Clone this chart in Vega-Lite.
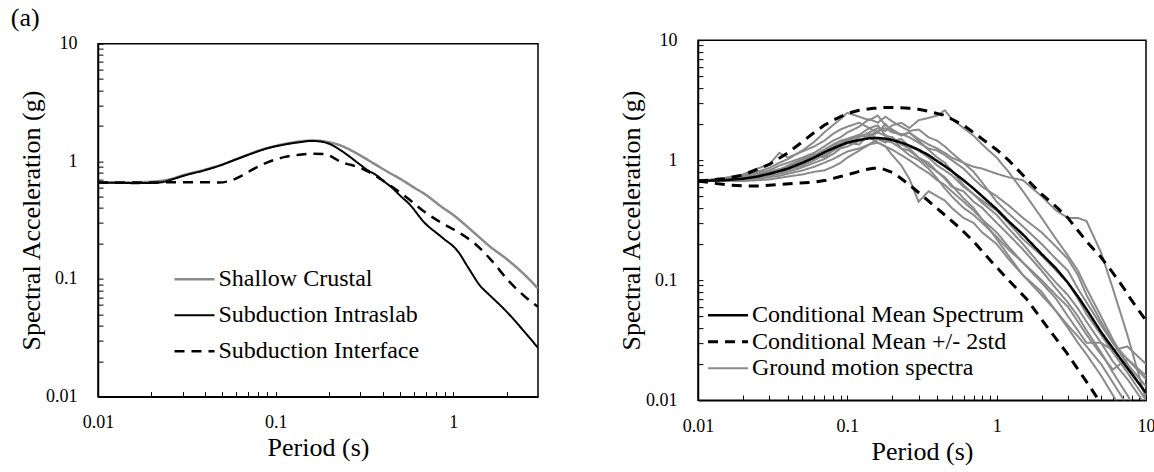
{
"$schema":"https://vega.github.io/schema/vega-lite/v6.json",
"padding":{"left":10,"top":5,"right":0,"bottom":0},
"title":{"text":"(a)","anchor":"start","fontSize":26,"font":"Liberation Serif, Times New Roman, serif","fontWeight":"normal","color":"black","dx":-6.5,"offset":-1},
"center":true,
"align":{"row":"all","column":"none"},
"spacing":78,
"resolve":{"scale":{"color":"independent","strokeDash":"independent","strokeWidth":"independent"},"legend":{"color":"independent","strokeDash":"independent","strokeWidth":"independent"}},
"config":{
"font":"Liberation Serif, Times New Roman, serif",
"view":{"stroke":"black","strokeWidth":1.5},
"axis":{"labelFont":"Liberation Serif, Times New Roman, serif","titleFont":"Liberation Serif, Times New Roman, serif","labelFontSize":18,"titleFontSize":26,"titleFontWeight":"normal","labelColor":"black","titleColor":"black","domainColor":"black","domainWidth":1.5,"tickColor":"black","tickWidth":1,"tickSize":-5,"grid":false,"labelOverlap":false,"labelFlush":false,"labelBound":false},
"axisX":{"labelPadding":22,"titlePadding":3},
"axisY":{"labelPadding":26,"titlePadding":1.5},
"legend":{"labelFont":"Liberation Serif, Times New Roman, serif","labelFontSize":24,"labelColor":"black","symbolType":"stroke","padding":0,"labelLimit":500}
},
"hconcat":[
{
"width":440,"height":353,
"data":{"values":[
{"series":"Shallow Crustal","T":0.01,"Sa":0.66},{"series":"Shallow Crustal","T":0.013,"Sa":0.66},{"series":"Shallow Crustal","T":0.016,"Sa":0.662},{"series":"Shallow Crustal","T":0.02,"Sa":0.67},{"series":"Shallow Crustal","T":0.025,"Sa":0.7},{"series":"Shallow Crustal","T":0.03,"Sa":0.76},{"series":"Shallow Crustal","T":0.04,"Sa":0.85},{"series":"Shallow Crustal","T":0.05,"Sa":0.94},{"series":"Shallow Crustal","T":0.06,"Sa":1.04},{"series":"Shallow Crustal","T":0.07,"Sa":1.14},{"series":"Shallow Crustal","T":0.08,"Sa":1.23},{"series":"Shallow Crustal","T":0.1,"Sa":1.35},{"series":"Shallow Crustal","T":0.12,"Sa":1.43},{"series":"Shallow Crustal","T":0.14,"Sa":1.48},{"series":"Shallow Crustal","T":0.16,"Sa":1.5},{"series":"Shallow Crustal","T":0.18,"Sa":1.49},{"series":"Shallow Crustal","T":0.2,"Sa":1.45},{"series":"Shallow Crustal","T":0.23,"Sa":1.37},{"series":"Shallow Crustal","T":0.26,"Sa":1.26},{"series":"Shallow Crustal","T":0.3,"Sa":1.12},{"series":"Shallow Crustal","T":0.36,"Sa":0.95},{"series":"Shallow Crustal","T":0.43,"Sa":0.81},{"series":"Shallow Crustal","T":0.51,"Sa":0.7},{"series":"Shallow Crustal","T":0.6,"Sa":0.6},{"series":"Shallow Crustal","T":0.7,"Sa":0.52},{"series":"Shallow Crustal","T":0.86,"Sa":0.41},{"series":"Shallow Crustal","T":1.0,"Sa":0.35},{"series":"Shallow Crustal","T":1.32,"Sa":0.245},{"series":"Shallow Crustal","T":1.6,"Sa":0.19},{"series":"Shallow Crustal","T":2.04,"Sa":0.144},{"series":"Shallow Crustal","T":2.5,"Sa":0.11},{"series":"Shallow Crustal","T":3.0,"Sa":0.083},
{"series":"Subduction Intraslab","T":0.01,"Sa":0.66},{"series":"Subduction Intraslab","T":0.013,"Sa":0.655},{"series":"Subduction Intraslab","T":0.016,"Sa":0.652},{"series":"Subduction Intraslab","T":0.02,"Sa":0.655},{"series":"Subduction Intraslab","T":0.023,"Sa":0.665},{"series":"Subduction Intraslab","T":0.026,"Sa":0.7},{"series":"Subduction Intraslab","T":0.031,"Sa":0.76},{"series":"Subduction Intraslab","T":0.04,"Sa":0.84},{"series":"Subduction Intraslab","T":0.0475,"Sa":0.91},{"series":"Subduction Intraslab","T":0.06,"Sa":1.04},{"series":"Subduction Intraslab","T":0.073,"Sa":1.16},{"series":"Subduction Intraslab","T":0.09,"Sa":1.29},{"series":"Subduction Intraslab","T":0.113,"Sa":1.39},{"series":"Subduction Intraslab","T":0.14,"Sa":1.46},{"series":"Subduction Intraslab","T":0.159,"Sa":1.49},{"series":"Subduction Intraslab","T":0.18,"Sa":1.47},{"series":"Subduction Intraslab","T":0.2,"Sa":1.41},{"series":"Subduction Intraslab","T":0.225,"Sa":1.28},{"series":"Subduction Intraslab","T":0.25,"Sa":1.15},{"series":"Subduction Intraslab","T":0.29,"Sa":0.97},{"series":"Subduction Intraslab","T":0.33,"Sa":0.84},{"series":"Subduction Intraslab","T":0.37,"Sa":0.76},{"series":"Subduction Intraslab","T":0.41,"Sa":0.67},{"series":"Subduction Intraslab","T":0.45,"Sa":0.6},{"series":"Subduction Intraslab","T":0.51,"Sa":0.5},{"series":"Subduction Intraslab","T":0.56,"Sa":0.44},{"series":"Subduction Intraslab","T":0.69,"Sa":0.3},{"series":"Subduction Intraslab","T":0.86,"Sa":0.227},{"series":"Subduction Intraslab","T":1.07,"Sa":0.169},{"series":"Subduction Intraslab","T":1.21,"Sa":0.126},{"series":"Subduction Intraslab","T":1.44,"Sa":0.085},{"series":"Subduction Intraslab","T":1.57,"Sa":0.075},{"series":"Subduction Intraslab","T":2.04,"Sa":0.051},{"series":"Subduction Intraslab","T":2.5,"Sa":0.036},{"series":"Subduction Intraslab","T":3.0,"Sa":0.026},
{"series":"Subduction Interface","T":0.01,"Sa":0.66},{"series":"Subduction Interface","T":0.015,"Sa":0.66},{"series":"Subduction Interface","T":0.02,"Sa":0.66},{"series":"Subduction Interface","T":0.03,"Sa":0.665},{"series":"Subduction Interface","T":0.04,"Sa":0.665},{"series":"Subduction Interface","T":0.048,"Sa":0.66},{"series":"Subduction Interface","T":0.055,"Sa":0.68},{"series":"Subduction Interface","T":0.065,"Sa":0.76},{"series":"Subduction Interface","T":0.073,"Sa":0.84},{"series":"Subduction Interface","T":0.09,"Sa":0.98},{"series":"Subduction Interface","T":0.113,"Sa":1.09},{"series":"Subduction Interface","T":0.14,"Sa":1.14},{"series":"Subduction Interface","T":0.16,"Sa":1.16},{"series":"Subduction Interface","T":0.189,"Sa":1.15},{"series":"Subduction Interface","T":0.21,"Sa":1.08},{"series":"Subduction Interface","T":0.235,"Sa":0.98},{"series":"Subduction Interface","T":0.267,"Sa":0.93},{"series":"Subduction Interface","T":0.3,"Sa":0.88},{"series":"Subduction Interface","T":0.33,"Sa":0.82},{"series":"Subduction Interface","T":0.362,"Sa":0.76},{"series":"Subduction Interface","T":0.41,"Sa":0.67},{"series":"Subduction Interface","T":0.45,"Sa":0.61},{"series":"Subduction Interface","T":0.559,"Sa":0.48},{"series":"Subduction Interface","T":0.692,"Sa":0.37},{"series":"Subduction Interface","T":0.859,"Sa":0.3},{"series":"Subduction Interface","T":1.067,"Sa":0.25},{"series":"Subduction Interface","T":1.32,"Sa":0.2},{"series":"Subduction Interface","T":1.64,"Sa":0.144},{"series":"Subduction Interface","T":2.04,"Sa":0.097},{"series":"Subduction Interface","T":2.5,"Sa":0.072},{"series":"Subduction Interface","T":3.0,"Sa":0.058}
]},
"mark":{"type":"line","clip":true,"interpolate":"monotone"},
"encoding":{
"x":{"field":"T","type":"quantitative","scale":{"type":"log","domain":[0.01,3],"nice":false},"axis":{"title":"Period (s)","values":[0.01,0.02,0.03,0.04,0.05,0.06,0.07,0.08,0.09,0.1,0.2,0.3,0.4,0.5,0.6,0.7,0.8,0.9,1,2],"labelExpr":"datum.value == 0.01 ? '0.01' : datum.value == 0.1 ? '0.1' : datum.value == 1 ? '1' : datum.value == 10 ? '10' : ''"}},
"y":{"field":"Sa","type":"quantitative","scale":{"type":"log","domain":[0.01,10],"nice":false},"axis":{"title":"Spectral Acceleration (g)","values":[0.01,0.02,0.03,0.04,0.05,0.06,0.07,0.08,0.09,0.1,0.2,0.3,0.4,0.5,0.6,0.7,0.8,0.9,1,2,3,4,5,6,7,8,9,10],"labelExpr":"datum.value == 0.01 ? '0.01' : datum.value == 0.1 ? '0.1' : datum.value == 1 ? '1' : datum.value == 10 ? '10' : ''"}},
"color":{"field":"series","type":"nominal","scale":{"domain":["Shallow Crustal","Subduction Intraslab","Subduction Interface"],"range":["#8a8a8a","#000000","#000000"]},"legend":{"title":null,"orient":"none","legendX":75,"legendY":223.5,"rowPadding":12,"labelOffset":2.5,"symbolSize":1600,"encoding":{"symbols":{"y":{"value":12}},"labels":{"y":{"value":12}}}}},
"strokeDash":{"field":"series","type":"nominal","scale":{"domain":["Shallow Crustal","Subduction Intraslab","Subduction Interface"],"range":[[1,0],[1,0],[10,7]]},"legend":{"title":null,"orient":"none","legendX":75,"legendY":223.5,"rowPadding":12,"labelOffset":2.5,"symbolSize":1600,"encoding":{"symbols":{"y":{"value":12}},"labels":{"y":{"value":12}}}}},
"strokeWidth":{"field":"series","type":"nominal","scale":{"type":"ordinal","domain":["Shallow Crustal","Subduction Intraslab","Subduction Interface"],"range":[2.5,2,2.5]},"legend":{"title":null,"orient":"none","legendX":75,"legendY":223.5,"rowPadding":12,"labelOffset":2.5,"symbolSize":1600,"encoding":{"symbols":{"y":{"value":12}},"labels":{"y":{"value":12}}}}}
}
},
{
"width":448,"height":360,
"data":{"values":[
{"series":"Conditional Mean Spectrum","id":"cms","T":0.01,"Sa":0.67},{"series":"Conditional Mean Spectrum","id":"cms","T":0.015,"Sa":0.68},{"series":"Conditional Mean Spectrum","id":"cms","T":0.02,"Sa":0.7},{"series":"Conditional Mean Spectrum","id":"cms","T":0.025,"Sa":0.73},{"series":"Conditional Mean Spectrum","id":"cms","T":0.03,"Sa":0.77},{"series":"Conditional Mean Spectrum","id":"cms","T":0.035,"Sa":0.81},{"series":"Conditional Mean Spectrum","id":"cms","T":0.04,"Sa":0.85},{"series":"Conditional Mean Spectrum","id":"cms","T":0.05,"Sa":0.95},{"series":"Conditional Mean Spectrum","id":"cms","T":0.06,"Sa":1.05},{"series":"Conditional Mean Spectrum","id":"cms","T":0.07,"Sa":1.16},{"series":"Conditional Mean Spectrum","id":"cms","T":0.08,"Sa":1.25},{"series":"Conditional Mean Spectrum","id":"cms","T":0.09,"Sa":1.33},{"series":"Conditional Mean Spectrum","id":"cms","T":0.1,"Sa":1.4},{"series":"Conditional Mean Spectrum","id":"cms","T":0.12,"Sa":1.47},{"series":"Conditional Mean Spectrum","id":"cms","T":0.14,"Sa":1.52},{"series":"Conditional Mean Spectrum","id":"cms","T":0.16,"Sa":1.53},{"series":"Conditional Mean Spectrum","id":"cms","T":0.18,"Sa":1.51},{"series":"Conditional Mean Spectrum","id":"cms","T":0.2,"Sa":1.47},{"series":"Conditional Mean Spectrum","id":"cms","T":0.23,"Sa":1.4},{"series":"Conditional Mean Spectrum","id":"cms","T":0.26,"Sa":1.32},{"series":"Conditional Mean Spectrum","id":"cms","T":0.3,"Sa":1.22},{"series":"Conditional Mean Spectrum","id":"cms","T":0.35,"Sa":1.1},{"series":"Conditional Mean Spectrum","id":"cms","T":0.4,"Sa":0.98},{"series":"Conditional Mean Spectrum","id":"cms","T":0.45,"Sa":0.89},{"series":"Conditional Mean Spectrum","id":"cms","T":0.5,"Sa":0.81},{"series":"Conditional Mean Spectrum","id":"cms","T":0.6,"Sa":0.68},{"series":"Conditional Mean Spectrum","id":"cms","T":0.7,"Sa":0.58},{"series":"Conditional Mean Spectrum","id":"cms","T":0.8,"Sa":0.5},{"series":"Conditional Mean Spectrum","id":"cms","T":1.0,"Sa":0.39},{"series":"Conditional Mean Spectrum","id":"cms","T":1.2,"Sa":0.31},{"series":"Conditional Mean Spectrum","id":"cms","T":1.5,"Sa":0.24},{"series":"Conditional Mean Spectrum","id":"cms","T":2.0,"Sa":0.165},{"series":"Conditional Mean Spectrum","id":"cms","T":2.5,"Sa":0.125},{"series":"Conditional Mean Spectrum","id":"cms","T":3.0,"Sa":0.095},{"series":"Conditional Mean Spectrum","id":"cms","T":3.5,"Sa":0.073},{"series":"Conditional Mean Spectrum","id":"cms","T":4.0,"Sa":0.057},{"series":"Conditional Mean Spectrum","id":"cms","T":5.0,"Sa":0.037},{"series":"Conditional Mean Spectrum","id":"cms","T":6.0,"Sa":0.027},{"series":"Conditional Mean Spectrum","id":"cms","T":7.5,"Sa":0.0185},{"series":"Conditional Mean Spectrum","id":"cms","T":10,"Sa":0.0115},
{"series":"Conditional Mean +/- 2std","id":"up","T":0.01,"Sa":0.67},{"series":"Conditional Mean +/- 2std","id":"up","T":0.015,"Sa":0.7},{"series":"Conditional Mean +/- 2std","id":"up","T":0.02,"Sa":0.75},{"series":"Conditional Mean +/- 2std","id":"up","T":0.03,"Sa":0.92},{"series":"Conditional Mean +/- 2std","id":"up","T":0.04,"Sa":1.15},{"series":"Conditional Mean +/- 2std","id":"up","T":0.05,"Sa":1.42},{"series":"Conditional Mean +/- 2std","id":"up","T":0.06,"Sa":1.7},{"series":"Conditional Mean +/- 2std","id":"up","T":0.07,"Sa":1.95},{"series":"Conditional Mean +/- 2std","id":"up","T":0.08,"Sa":2.15},{"series":"Conditional Mean +/- 2std","id":"up","T":0.1,"Sa":2.45},{"series":"Conditional Mean +/- 2std","id":"up","T":0.12,"Sa":2.6},{"series":"Conditional Mean +/- 2std","id":"up","T":0.15,"Sa":2.7},{"series":"Conditional Mean +/- 2std","id":"up","T":0.18,"Sa":2.75},{"series":"Conditional Mean +/- 2std","id":"up","T":0.22,"Sa":2.74},{"series":"Conditional Mean +/- 2std","id":"up","T":0.26,"Sa":2.7},{"series":"Conditional Mean +/- 2std","id":"up","T":0.3,"Sa":2.65},{"series":"Conditional Mean +/- 2std","id":"up","T":0.35,"Sa":2.55},{"series":"Conditional Mean +/- 2std","id":"up","T":0.44,"Sa":2.37},{"series":"Conditional Mean +/- 2std","id":"up","T":0.5,"Sa":2.2},{"series":"Conditional Mean +/- 2std","id":"up","T":0.6,"Sa":1.95},{"series":"Conditional Mean +/- 2std","id":"up","T":0.7,"Sa":1.7},{"series":"Conditional Mean +/- 2std","id":"up","T":0.8,"Sa":1.5},{"series":"Conditional Mean +/- 2std","id":"up","T":1.0,"Sa":1.22},{"series":"Conditional Mean +/- 2std","id":"up","T":1.2,"Sa":1.0},{"series":"Conditional Mean +/- 2std","id":"up","T":1.58,"Sa":0.7},{"series":"Conditional Mean +/- 2std","id":"up","T":2.0,"Sa":0.52},{"series":"Conditional Mean +/- 2std","id":"up","T":2.5,"Sa":0.41},{"series":"Conditional Mean +/- 2std","id":"up","T":3.0,"Sa":0.33},{"series":"Conditional Mean +/- 2std","id":"up","T":4.0,"Sa":0.21},{"series":"Conditional Mean +/- 2std","id":"up","T":5.0,"Sa":0.155},{"series":"Conditional Mean +/- 2std","id":"up","T":6.0,"Sa":0.115},{"series":"Conditional Mean +/- 2std","id":"up","T":7.0,"Sa":0.088},{"series":"Conditional Mean +/- 2std","id":"up","T":8.0,"Sa":0.068},{"series":"Conditional Mean +/- 2std","id":"up","T":10,"Sa":0.046},
{"series":"Conditional Mean +/- 2std","id":"lo","T":0.01,"Sa":0.67},{"series":"Conditional Mean +/- 2std","id":"lo","T":0.013,"Sa":0.64},{"series":"Conditional Mean +/- 2std","id":"lo","T":0.016,"Sa":0.62},{"series":"Conditional Mean +/- 2std","id":"lo","T":0.02,"Sa":0.61},{"series":"Conditional Mean +/- 2std","id":"lo","T":0.026,"Sa":0.61},{"series":"Conditional Mean +/- 2std","id":"lo","T":0.035,"Sa":0.625},{"series":"Conditional Mean +/- 2std","id":"lo","T":0.045,"Sa":0.64},{"series":"Conditional Mean +/- 2std","id":"lo","T":0.06,"Sa":0.655},{"series":"Conditional Mean +/- 2std","id":"lo","T":0.072,"Sa":0.68},{"series":"Conditional Mean +/- 2std","id":"lo","T":0.09,"Sa":0.73},{"series":"Conditional Mean +/- 2std","id":"lo","T":0.11,"Sa":0.78},{"series":"Conditional Mean +/- 2std","id":"lo","T":0.13,"Sa":0.83},{"series":"Conditional Mean +/- 2std","id":"lo","T":0.15,"Sa":0.855},{"series":"Conditional Mean +/- 2std","id":"lo","T":0.165,"Sa":0.86},{"series":"Conditional Mean +/- 2std","id":"lo","T":0.18,"Sa":0.83},{"series":"Conditional Mean +/- 2std","id":"lo","T":0.2,"Sa":0.79},{"series":"Conditional Mean +/- 2std","id":"lo","T":0.22,"Sa":0.73},{"series":"Conditional Mean +/- 2std","id":"lo","T":0.27,"Sa":0.6},{"series":"Conditional Mean +/- 2std","id":"lo","T":0.34,"Sa":0.47},{"series":"Conditional Mean +/- 2std","id":"lo","T":0.42,"Sa":0.375},{"series":"Conditional Mean +/- 2std","id":"lo","T":0.57,"Sa":0.27},{"series":"Conditional Mean +/- 2std","id":"lo","T":0.7,"Sa":0.21},{"series":"Conditional Mean +/- 2std","id":"lo","T":0.95,"Sa":0.137},{"series":"Conditional Mean +/- 2std","id":"lo","T":1.2,"Sa":0.1},{"series":"Conditional Mean +/- 2std","id":"lo","T":1.58,"Sa":0.07},{"series":"Conditional Mean +/- 2std","id":"lo","T":2.27,"Sa":0.038},{"series":"Conditional Mean +/- 2std","id":"lo","T":2.93,"Sa":0.025},{"series":"Conditional Mean +/- 2std","id":"lo","T":4.2,"Sa":0.013},{"series":"Conditional Mean +/- 2std","id":"lo","T":4.8,"Sa":0.0101},{"series":"Conditional Mean +/- 2std","id":"lo","T":5.3,"Sa":0.0087},
{"series":"Ground motion spectra","id":"g1","T":0.01,"Sa":0.67},{"series":"Ground motion spectra","id":"g1","T":0.015,"Sa":0.7},{"series":"Ground motion spectra","id":"g1","T":0.02,"Sa":0.74},{"series":"Ground motion spectra","id":"g1","T":0.025,"Sa":0.8},{"series":"Ground motion spectra","id":"g1","T":0.03,"Sa":0.86},{"series":"Ground motion spectra","id":"g1","T":0.035,"Sa":0.95},{"series":"Ground motion spectra","id":"g1","T":0.04,"Sa":1.02},{"series":"Ground motion spectra","id":"g1","T":0.05,"Sa":1.2},{"series":"Ground motion spectra","id":"g1","T":0.06,"Sa":1.42},{"series":"Ground motion spectra","id":"g1","T":0.07,"Sa":1.7},{"series":"Ground motion spectra","id":"g1","T":0.08,"Sa":1.95},{"series":"Ground motion spectra","id":"g1","T":0.09,"Sa":2.2},{"series":"Ground motion spectra","id":"g1","T":0.1,"Sa":2.48},{"series":"Ground motion spectra","id":"g1","T":0.12,"Sa":2.3},{"series":"Ground motion spectra","id":"g1","T":0.14,"Sa":2.15},{"series":"Ground motion spectra","id":"g1","T":0.16,"Sa":2.35},{"series":"Ground motion spectra","id":"g1","T":0.18,"Sa":1.95},{"series":"Ground motion spectra","id":"g1","T":0.2,"Sa":1.8},{"series":"Ground motion spectra","id":"g1","T":0.23,"Sa":1.62},{"series":"Ground motion spectra","id":"g1","T":0.26,"Sa":1.7},{"series":"Ground motion spectra","id":"g1","T":0.3,"Sa":1.45},{"series":"Ground motion spectra","id":"g1","T":0.35,"Sa":1.22},{"series":"Ground motion spectra","id":"g1","T":0.4,"Sa":1.05},{"series":"Ground motion spectra","id":"g1","T":0.45,"Sa":0.95},{"series":"Ground motion spectra","id":"g1","T":0.5,"Sa":0.82},{"series":"Ground motion spectra","id":"g1","T":0.6,"Sa":0.62},{"series":"Ground motion spectra","id":"g1","T":0.7,"Sa":0.52},{"series":"Ground motion spectra","id":"g1","T":0.8,"Sa":0.44},{"series":"Ground motion spectra","id":"g1","T":1.0,"Sa":0.35},{"series":"Ground motion spectra","id":"g1","T":1.2,"Sa":0.27},{"series":"Ground motion spectra","id":"g1","T":1.5,"Sa":0.2},{"series":"Ground motion spectra","id":"g1","T":2.0,"Sa":0.13},{"series":"Ground motion spectra","id":"g1","T":2.5,"Sa":0.095},{"series":"Ground motion spectra","id":"g1","T":3.0,"Sa":0.075},{"series":"Ground motion spectra","id":"g1","T":3.5,"Sa":0.058},{"series":"Ground motion spectra","id":"g1","T":4.0,"Sa":0.045},{"series":"Ground motion spectra","id":"g1","T":5.0,"Sa":0.03},{"series":"Ground motion spectra","id":"g1","T":6.0,"Sa":0.021},{"series":"Ground motion spectra","id":"g1","T":7.5,"Sa":0.015},{"series":"Ground motion spectra","id":"g1","T":10,"Sa":0.009},
{"series":"Ground motion spectra","id":"g2","T":0.01,"Sa":0.67},{"series":"Ground motion spectra","id":"g2","T":0.015,"Sa":0.69},{"series":"Ground motion spectra","id":"g2","T":0.02,"Sa":0.71},{"series":"Ground motion spectra","id":"g2","T":0.025,"Sa":0.74},{"series":"Ground motion spectra","id":"g2","T":0.03,"Sa":0.78},{"series":"Ground motion spectra","id":"g2","T":0.035,"Sa":0.8},{"series":"Ground motion spectra","id":"g2","T":0.04,"Sa":0.84},{"series":"Ground motion spectra","id":"g2","T":0.05,"Sa":0.9},{"series":"Ground motion spectra","id":"g2","T":0.06,"Sa":1.0},{"series":"Ground motion spectra","id":"g2","T":0.07,"Sa":1.1},{"series":"Ground motion spectra","id":"g2","T":0.08,"Sa":1.2},{"series":"Ground motion spectra","id":"g2","T":0.09,"Sa":1.3},{"series":"Ground motion spectra","id":"g2","T":0.1,"Sa":1.38},{"series":"Ground motion spectra","id":"g2","T":0.12,"Sa":1.55},{"series":"Ground motion spectra","id":"g2","T":0.14,"Sa":1.7},{"series":"Ground motion spectra","id":"g2","T":0.16,"Sa":1.85},{"series":"Ground motion spectra","id":"g2","T":0.18,"Sa":1.75},{"series":"Ground motion spectra","id":"g2","T":0.2,"Sa":1.95},{"series":"Ground motion spectra","id":"g2","T":0.23,"Sa":2.05},{"series":"Ground motion spectra","id":"g2","T":0.26,"Sa":1.85},{"series":"Ground motion spectra","id":"g2","T":0.3,"Sa":2.15},{"series":"Ground motion spectra","id":"g2","T":0.35,"Sa":2.25},{"series":"Ground motion spectra","id":"g2","T":0.4,"Sa":2.35},{"series":"Ground motion spectra","id":"g2","T":0.45,"Sa":2.6},{"series":"Ground motion spectra","id":"g2","T":0.5,"Sa":2.2},{"series":"Ground motion spectra","id":"g2","T":0.6,"Sa":1.85},{"series":"Ground motion spectra","id":"g2","T":0.7,"Sa":1.6},{"series":"Ground motion spectra","id":"g2","T":0.8,"Sa":1.35},{"series":"Ground motion spectra","id":"g2","T":1.0,"Sa":1.05},{"series":"Ground motion spectra","id":"g2","T":1.2,"Sa":0.8},{"series":"Ground motion spectra","id":"g2","T":1.5,"Sa":0.55},{"series":"Ground motion spectra","id":"g2","T":2.0,"Sa":0.33},{"series":"Ground motion spectra","id":"g2","T":2.5,"Sa":0.22},{"series":"Ground motion spectra","id":"g2","T":3.0,"Sa":0.16},{"series":"Ground motion spectra","id":"g2","T":3.5,"Sa":0.12},{"series":"Ground motion spectra","id":"g2","T":4.0,"Sa":0.085},{"series":"Ground motion spectra","id":"g2","T":5.0,"Sa":0.05},{"series":"Ground motion spectra","id":"g2","T":6.0,"Sa":0.032},{"series":"Ground motion spectra","id":"g2","T":7.5,"Sa":0.02},{"series":"Ground motion spectra","id":"g2","T":10,"Sa":0.011},
{"series":"Ground motion spectra","id":"g3","T":0.01,"Sa":0.67},{"series":"Ground motion spectra","id":"g3","T":0.015,"Sa":0.68},{"series":"Ground motion spectra","id":"g3","T":0.02,"Sa":0.7},{"series":"Ground motion spectra","id":"g3","T":0.025,"Sa":0.72},{"series":"Ground motion spectra","id":"g3","T":0.03,"Sa":0.75},{"series":"Ground motion spectra","id":"g3","T":0.035,"Sa":0.79},{"series":"Ground motion spectra","id":"g3","T":0.04,"Sa":0.83},{"series":"Ground motion spectra","id":"g3","T":0.05,"Sa":0.92},{"series":"Ground motion spectra","id":"g3","T":0.06,"Sa":1.05},{"series":"Ground motion spectra","id":"g3","T":0.07,"Sa":1.15},{"series":"Ground motion spectra","id":"g3","T":0.08,"Sa":1.3},{"series":"Ground motion spectra","id":"g3","T":0.09,"Sa":1.38},{"series":"Ground motion spectra","id":"g3","T":0.1,"Sa":1.5},{"series":"Ground motion spectra","id":"g3","T":0.12,"Sa":1.62},{"series":"Ground motion spectra","id":"g3","T":0.14,"Sa":1.85},{"series":"Ground motion spectra","id":"g3","T":0.16,"Sa":1.7},{"series":"Ground motion spectra","id":"g3","T":0.18,"Sa":2.0},{"series":"Ground motion spectra","id":"g3","T":0.2,"Sa":1.75},{"series":"Ground motion spectra","id":"g3","T":0.23,"Sa":1.6},{"series":"Ground motion spectra","id":"g3","T":0.26,"Sa":1.7},{"series":"Ground motion spectra","id":"g3","T":0.3,"Sa":1.5},{"series":"Ground motion spectra","id":"g3","T":0.35,"Sa":1.35},{"series":"Ground motion spectra","id":"g3","T":0.4,"Sa":1.25},{"series":"Ground motion spectra","id":"g3","T":0.45,"Sa":1.15},{"series":"Ground motion spectra","id":"g3","T":0.5,"Sa":1.05},{"series":"Ground motion spectra","id":"g3","T":0.6,"Sa":0.95},{"series":"Ground motion spectra","id":"g3","T":0.7,"Sa":0.88},{"series":"Ground motion spectra","id":"g3","T":0.8,"Sa":0.85},{"series":"Ground motion spectra","id":"g3","T":1.0,"Sa":0.77},{"series":"Ground motion spectra","id":"g3","T":1.2,"Sa":0.72},{"series":"Ground motion spectra","id":"g3","T":1.5,"Sa":0.68},{"series":"Ground motion spectra","id":"g3","T":2.0,"Sa":0.5},{"series":"Ground motion spectra","id":"g3","T":2.5,"Sa":0.38},{"series":"Ground motion spectra","id":"g3","T":3.0,"Sa":0.33},{"series":"Ground motion spectra","id":"g3","T":3.5,"Sa":0.33},{"series":"Ground motion spectra","id":"g3","T":4.0,"Sa":0.31},{"series":"Ground motion spectra","id":"g3","T":5.0,"Sa":0.17},{"series":"Ground motion spectra","id":"g3","T":6.0,"Sa":0.085},{"series":"Ground motion spectra","id":"g3","T":7.5,"Sa":0.035},{"series":"Ground motion spectra","id":"g3","T":10,"Sa":0.01},
{"series":"Ground motion spectra","id":"g4","T":0.01,"Sa":0.67},{"series":"Ground motion spectra","id":"g4","T":0.015,"Sa":0.68},{"series":"Ground motion spectra","id":"g4","T":0.02,"Sa":0.7},{"series":"Ground motion spectra","id":"g4","T":0.025,"Sa":0.73},{"series":"Ground motion spectra","id":"g4","T":0.03,"Sa":0.76},{"series":"Ground motion spectra","id":"g4","T":0.035,"Sa":0.8},{"series":"Ground motion spectra","id":"g4","T":0.04,"Sa":0.86},{"series":"Ground motion spectra","id":"g4","T":0.05,"Sa":0.98},{"series":"Ground motion spectra","id":"g4","T":0.06,"Sa":1.08},{"series":"Ground motion spectra","id":"g4","T":0.07,"Sa":1.2},{"series":"Ground motion spectra","id":"g4","T":0.08,"Sa":1.3},{"series":"Ground motion spectra","id":"g4","T":0.09,"Sa":1.38},{"series":"Ground motion spectra","id":"g4","T":0.1,"Sa":1.45},{"series":"Ground motion spectra","id":"g4","T":0.12,"Sa":1.6},{"series":"Ground motion spectra","id":"g4","T":0.14,"Sa":1.55},{"series":"Ground motion spectra","id":"g4","T":0.16,"Sa":1.4},{"series":"Ground motion spectra","id":"g4","T":0.18,"Sa":1.3},{"series":"Ground motion spectra","id":"g4","T":0.2,"Sa":1.1},{"series":"Ground motion spectra","id":"g4","T":0.23,"Sa":0.9},{"series":"Ground motion spectra","id":"g4","T":0.26,"Sa":0.7},{"series":"Ground motion spectra","id":"g4","T":0.3,"Sa":0.45},{"series":"Ground motion spectra","id":"g4","T":0.35,"Sa":0.55},{"series":"Ground motion spectra","id":"g4","T":0.4,"Sa":0.5},{"series":"Ground motion spectra","id":"g4","T":0.45,"Sa":0.46},{"series":"Ground motion spectra","id":"g4","T":0.5,"Sa":0.4},{"series":"Ground motion spectra","id":"g4","T":0.6,"Sa":0.33},{"series":"Ground motion spectra","id":"g4","T":0.7,"Sa":0.3},{"series":"Ground motion spectra","id":"g4","T":0.8,"Sa":0.25},{"series":"Ground motion spectra","id":"g4","T":1.0,"Sa":0.2},{"series":"Ground motion spectra","id":"g4","T":1.2,"Sa":0.15},{"series":"Ground motion spectra","id":"g4","T":1.5,"Sa":0.11},{"series":"Ground motion spectra","id":"g4","T":2.0,"Sa":0.08},{"series":"Ground motion spectra","id":"g4","T":2.5,"Sa":0.055},{"series":"Ground motion spectra","id":"g4","T":3.0,"Sa":0.04},{"series":"Ground motion spectra","id":"g4","T":3.5,"Sa":0.03},{"series":"Ground motion spectra","id":"g4","T":4.0,"Sa":0.024},{"series":"Ground motion spectra","id":"g4","T":5.0,"Sa":0.016},{"series":"Ground motion spectra","id":"g4","T":6.0,"Sa":0.011},{"series":"Ground motion spectra","id":"g4","T":7.5,"Sa":0.007},{"series":"Ground motion spectra","id":"g4","T":10,"Sa":0.004},
{"series":"Ground motion spectra","id":"g5","T":0.01,"Sa":0.67},{"series":"Ground motion spectra","id":"g5","T":0.015,"Sa":0.67},{"series":"Ground motion spectra","id":"g5","T":0.02,"Sa":0.67},{"series":"Ground motion spectra","id":"g5","T":0.025,"Sa":0.68},{"series":"Ground motion spectra","id":"g5","T":0.03,"Sa":0.69},{"series":"Ground motion spectra","id":"g5","T":0.035,"Sa":0.71},{"series":"Ground motion spectra","id":"g5","T":0.04,"Sa":0.73},{"series":"Ground motion spectra","id":"g5","T":0.05,"Sa":0.76},{"series":"Ground motion spectra","id":"g5","T":0.06,"Sa":0.8},{"series":"Ground motion spectra","id":"g5","T":0.07,"Sa":0.82},{"series":"Ground motion spectra","id":"g5","T":0.08,"Sa":0.88},{"series":"Ground motion spectra","id":"g5","T":0.09,"Sa":0.95},{"series":"Ground motion spectra","id":"g5","T":0.1,"Sa":1.05},{"series":"Ground motion spectra","id":"g5","T":0.12,"Sa":1.2},{"series":"Ground motion spectra","id":"g5","T":0.14,"Sa":1.35},{"series":"Ground motion spectra","id":"g5","T":0.16,"Sa":1.5},{"series":"Ground motion spectra","id":"g5","T":0.18,"Sa":1.45},{"series":"Ground motion spectra","id":"g5","T":0.2,"Sa":1.4},{"series":"Ground motion spectra","id":"g5","T":0.23,"Sa":1.25},{"series":"Ground motion spectra","id":"g5","T":0.26,"Sa":1.2},{"series":"Ground motion spectra","id":"g5","T":0.3,"Sa":1.05},{"series":"Ground motion spectra","id":"g5","T":0.35,"Sa":0.95},{"series":"Ground motion spectra","id":"g5","T":0.4,"Sa":0.8},{"series":"Ground motion spectra","id":"g5","T":0.45,"Sa":0.72},{"series":"Ground motion spectra","id":"g5","T":0.5,"Sa":0.62},{"series":"Ground motion spectra","id":"g5","T":0.6,"Sa":0.48},{"series":"Ground motion spectra","id":"g5","T":0.7,"Sa":0.4},{"series":"Ground motion spectra","id":"g5","T":0.8,"Sa":0.32},{"series":"Ground motion spectra","id":"g5","T":1.0,"Sa":0.22},{"series":"Ground motion spectra","id":"g5","T":1.2,"Sa":0.16},{"series":"Ground motion spectra","id":"g5","T":1.5,"Sa":0.11},{"series":"Ground motion spectra","id":"g5","T":2.0,"Sa":0.075},{"series":"Ground motion spectra","id":"g5","T":2.5,"Sa":0.055},{"series":"Ground motion spectra","id":"g5","T":3.0,"Sa":0.042},{"series":"Ground motion spectra","id":"g5","T":3.5,"Sa":0.034},{"series":"Ground motion spectra","id":"g5","T":4.0,"Sa":0.028},{"series":"Ground motion spectra","id":"g5","T":5.0,"Sa":0.02},{"series":"Ground motion spectra","id":"g5","T":6.0,"Sa":0.014},{"series":"Ground motion spectra","id":"g5","T":7.5,"Sa":0.009},{"series":"Ground motion spectra","id":"g5","T":10,"Sa":0.005},
{"series":"Ground motion spectra","id":"g6","T":0.01,"Sa":0.67},{"series":"Ground motion spectra","id":"g6","T":0.015,"Sa":0.7},{"series":"Ground motion spectra","id":"g6","T":0.02,"Sa":0.73},{"series":"Ground motion spectra","id":"g6","T":0.025,"Sa":0.78},{"series":"Ground motion spectra","id":"g6","T":0.03,"Sa":0.82},{"series":"Ground motion spectra","id":"g6","T":0.035,"Sa":0.9},{"series":"Ground motion spectra","id":"g6","T":0.04,"Sa":0.95},{"series":"Ground motion spectra","id":"g6","T":0.05,"Sa":1.05},{"series":"Ground motion spectra","id":"g6","T":0.06,"Sa":1.15},{"series":"Ground motion spectra","id":"g6","T":0.07,"Sa":1.3},{"series":"Ground motion spectra","id":"g6","T":0.08,"Sa":1.45},{"series":"Ground motion spectra","id":"g6","T":0.09,"Sa":1.55},{"series":"Ground motion spectra","id":"g6","T":0.1,"Sa":1.7},{"series":"Ground motion spectra","id":"g6","T":0.12,"Sa":1.9},{"series":"Ground motion spectra","id":"g6","T":0.14,"Sa":2.2},{"series":"Ground motion spectra","id":"g6","T":0.16,"Sa":2.05},{"series":"Ground motion spectra","id":"g6","T":0.18,"Sa":2.3},{"series":"Ground motion spectra","id":"g6","T":0.2,"Sa":2.1},{"series":"Ground motion spectra","id":"g6","T":0.23,"Sa":1.9},{"series":"Ground motion spectra","id":"g6","T":0.26,"Sa":1.75},{"series":"Ground motion spectra","id":"g6","T":0.3,"Sa":1.8},{"series":"Ground motion spectra","id":"g6","T":0.35,"Sa":1.55},{"series":"Ground motion spectra","id":"g6","T":0.4,"Sa":1.45},{"series":"Ground motion spectra","id":"g6","T":0.45,"Sa":1.3},{"series":"Ground motion spectra","id":"g6","T":0.5,"Sa":1.15},{"series":"Ground motion spectra","id":"g6","T":0.6,"Sa":0.95},{"series":"Ground motion spectra","id":"g6","T":0.7,"Sa":0.8},{"series":"Ground motion spectra","id":"g6","T":0.8,"Sa":0.65},{"series":"Ground motion spectra","id":"g6","T":1.0,"Sa":0.45},{"series":"Ground motion spectra","id":"g6","T":1.2,"Sa":0.36},{"series":"Ground motion spectra","id":"g6","T":1.5,"Sa":0.28},{"series":"Ground motion spectra","id":"g6","T":2.0,"Sa":0.2},{"series":"Ground motion spectra","id":"g6","T":2.5,"Sa":0.15},{"series":"Ground motion spectra","id":"g6","T":3.0,"Sa":0.12},{"series":"Ground motion spectra","id":"g6","T":3.5,"Sa":0.085},{"series":"Ground motion spectra","id":"g6","T":4.0,"Sa":0.065},{"series":"Ground motion spectra","id":"g6","T":5.0,"Sa":0.042},{"series":"Ground motion spectra","id":"g6","T":6.0,"Sa":0.03},{"series":"Ground motion spectra","id":"g6","T":7.5,"Sa":0.02},{"series":"Ground motion spectra","id":"g6","T":10,"Sa":0.013},
{"series":"Ground motion spectra","id":"g7","T":0.01,"Sa":0.67},{"series":"Ground motion spectra","id":"g7","T":0.015,"Sa":0.69},{"series":"Ground motion spectra","id":"g7","T":0.02,"Sa":0.72},{"series":"Ground motion spectra","id":"g7","T":0.025,"Sa":0.76},{"series":"Ground motion spectra","id":"g7","T":0.03,"Sa":0.8},{"series":"Ground motion spectra","id":"g7","T":0.035,"Sa":0.84},{"series":"Ground motion spectra","id":"g7","T":0.04,"Sa":0.88},{"series":"Ground motion spectra","id":"g7","T":0.05,"Sa":1.0},{"series":"Ground motion spectra","id":"g7","T":0.06,"Sa":1.1},{"series":"Ground motion spectra","id":"g7","T":0.07,"Sa":1.22},{"series":"Ground motion spectra","id":"g7","T":0.08,"Sa":1.35},{"series":"Ground motion spectra","id":"g7","T":0.09,"Sa":1.45},{"series":"Ground motion spectra","id":"g7","T":0.1,"Sa":1.5},{"series":"Ground motion spectra","id":"g7","T":0.12,"Sa":1.62},{"series":"Ground motion spectra","id":"g7","T":0.14,"Sa":1.55},{"series":"Ground motion spectra","id":"g7","T":0.16,"Sa":1.7},{"series":"Ground motion spectra","id":"g7","T":0.18,"Sa":1.6},{"series":"Ground motion spectra","id":"g7","T":0.2,"Sa":1.45},{"series":"Ground motion spectra","id":"g7","T":0.23,"Sa":1.5},{"series":"Ground motion spectra","id":"g7","T":0.26,"Sa":1.3},{"series":"Ground motion spectra","id":"g7","T":0.3,"Sa":1.2},{"series":"Ground motion spectra","id":"g7","T":0.35,"Sa":1.05},{"series":"Ground motion spectra","id":"g7","T":0.4,"Sa":0.9},{"series":"Ground motion spectra","id":"g7","T":0.45,"Sa":0.82},{"series":"Ground motion spectra","id":"g7","T":0.5,"Sa":0.75},{"series":"Ground motion spectra","id":"g7","T":0.6,"Sa":0.6},{"series":"Ground motion spectra","id":"g7","T":0.7,"Sa":0.52},{"series":"Ground motion spectra","id":"g7","T":0.8,"Sa":0.46},{"series":"Ground motion spectra","id":"g7","T":1.0,"Sa":0.38},{"series":"Ground motion spectra","id":"g7","T":1.2,"Sa":0.3},{"series":"Ground motion spectra","id":"g7","T":1.5,"Sa":0.22},{"series":"Ground motion spectra","id":"g7","T":2.0,"Sa":0.16},{"series":"Ground motion spectra","id":"g7","T":2.5,"Sa":0.12},{"series":"Ground motion spectra","id":"g7","T":3.0,"Sa":0.095},{"series":"Ground motion spectra","id":"g7","T":3.5,"Sa":0.07},{"series":"Ground motion spectra","id":"g7","T":4.0,"Sa":0.052},{"series":"Ground motion spectra","id":"g7","T":5.0,"Sa":0.035},{"series":"Ground motion spectra","id":"g7","T":6.0,"Sa":0.025},{"series":"Ground motion spectra","id":"g7","T":7.5,"Sa":0.017},{"series":"Ground motion spectra","id":"g7","T":10,"Sa":0.01},
{"series":"Ground motion spectra","id":"g8","T":0.01,"Sa":0.67},{"series":"Ground motion spectra","id":"g8","T":0.015,"Sa":0.68},{"series":"Ground motion spectra","id":"g8","T":0.02,"Sa":0.69},{"series":"Ground motion spectra","id":"g8","T":0.025,"Sa":0.7},{"series":"Ground motion spectra","id":"g8","T":0.03,"Sa":0.72},{"series":"Ground motion spectra","id":"g8","T":0.035,"Sa":0.74},{"series":"Ground motion spectra","id":"g8","T":0.04,"Sa":0.77},{"series":"Ground motion spectra","id":"g8","T":0.05,"Sa":0.82},{"series":"Ground motion spectra","id":"g8","T":0.06,"Sa":0.88},{"series":"Ground motion spectra","id":"g8","T":0.07,"Sa":0.95},{"series":"Ground motion spectra","id":"g8","T":0.08,"Sa":1.02},{"series":"Ground motion spectra","id":"g8","T":0.09,"Sa":1.1},{"series":"Ground motion spectra","id":"g8","T":0.1,"Sa":1.18},{"series":"Ground motion spectra","id":"g8","T":0.12,"Sa":1.25},{"series":"Ground motion spectra","id":"g8","T":0.14,"Sa":1.35},{"series":"Ground motion spectra","id":"g8","T":0.16,"Sa":1.4},{"series":"Ground motion spectra","id":"g8","T":0.18,"Sa":1.3},{"series":"Ground motion spectra","id":"g8","T":0.2,"Sa":1.22},{"series":"Ground motion spectra","id":"g8","T":0.23,"Sa":1.1},{"series":"Ground motion spectra","id":"g8","T":0.26,"Sa":1.0},{"series":"Ground motion spectra","id":"g8","T":0.3,"Sa":0.88},{"series":"Ground motion spectra","id":"g8","T":0.35,"Sa":0.78},{"series":"Ground motion spectra","id":"g8","T":0.4,"Sa":0.68},{"series":"Ground motion spectra","id":"g8","T":0.45,"Sa":0.62},{"series":"Ground motion spectra","id":"g8","T":0.5,"Sa":0.55},{"series":"Ground motion spectra","id":"g8","T":0.6,"Sa":0.45},{"series":"Ground motion spectra","id":"g8","T":0.7,"Sa":0.38},{"series":"Ground motion spectra","id":"g8","T":0.8,"Sa":0.32},{"series":"Ground motion spectra","id":"g8","T":1.0,"Sa":0.25},{"series":"Ground motion spectra","id":"g8","T":1.2,"Sa":0.19},{"series":"Ground motion spectra","id":"g8","T":1.5,"Sa":0.14},{"series":"Ground motion spectra","id":"g8","T":2.0,"Sa":0.095},{"series":"Ground motion spectra","id":"g8","T":2.5,"Sa":0.07},{"series":"Ground motion spectra","id":"g8","T":3.0,"Sa":0.05},{"series":"Ground motion spectra","id":"g8","T":3.5,"Sa":0.038},{"series":"Ground motion spectra","id":"g8","T":4.0,"Sa":0.03},{"series":"Ground motion spectra","id":"g8","T":5.0,"Sa":0.03},{"series":"Ground motion spectra","id":"g8","T":6.0,"Sa":0.026},{"series":"Ground motion spectra","id":"g8","T":7.5,"Sa":0.028},{"series":"Ground motion spectra","id":"g8","T":10,"Sa":0.02},
{"series":"Ground motion spectra","id":"g9","T":0.01,"Sa":0.67},{"series":"Ground motion spectra","id":"g9","T":0.015,"Sa":0.71},{"series":"Ground motion spectra","id":"g9","T":0.02,"Sa":0.76},{"series":"Ground motion spectra","id":"g9","T":0.025,"Sa":0.85},{"series":"Ground motion spectra","id":"g9","T":0.03,"Sa":0.92},{"series":"Ground motion spectra","id":"g9","T":0.035,"Sa":1.15},{"series":"Ground motion spectra","id":"g9","T":0.04,"Sa":1.05},{"series":"Ground motion spectra","id":"g9","T":0.05,"Sa":1.18},{"series":"Ground motion spectra","id":"g9","T":0.06,"Sa":1.3},{"series":"Ground motion spectra","id":"g9","T":0.07,"Sa":1.45},{"series":"Ground motion spectra","id":"g9","T":0.08,"Sa":1.65},{"series":"Ground motion spectra","id":"g9","T":0.09,"Sa":1.8},{"series":"Ground motion spectra","id":"g9","T":0.1,"Sa":1.9},{"series":"Ground motion spectra","id":"g9","T":0.12,"Sa":2.05},{"series":"Ground motion spectra","id":"g9","T":0.14,"Sa":1.85},{"series":"Ground motion spectra","id":"g9","T":0.16,"Sa":1.95},{"series":"Ground motion spectra","id":"g9","T":0.18,"Sa":1.6},{"series":"Ground motion spectra","id":"g9","T":0.2,"Sa":1.55},{"series":"Ground motion spectra","id":"g9","T":0.23,"Sa":1.35},{"series":"Ground motion spectra","id":"g9","T":0.26,"Sa":1.25},{"series":"Ground motion spectra","id":"g9","T":0.3,"Sa":1.05},{"series":"Ground motion spectra","id":"g9","T":0.35,"Sa":0.9},{"series":"Ground motion spectra","id":"g9","T":0.4,"Sa":0.8},{"series":"Ground motion spectra","id":"g9","T":0.45,"Sa":0.7},{"series":"Ground motion spectra","id":"g9","T":0.5,"Sa":0.6},{"series":"Ground motion spectra","id":"g9","T":0.6,"Sa":0.55},{"series":"Ground motion spectra","id":"g9","T":0.7,"Sa":0.45},{"series":"Ground motion spectra","id":"g9","T":0.8,"Sa":0.4},{"series":"Ground motion spectra","id":"g9","T":1.0,"Sa":0.3},{"series":"Ground motion spectra","id":"g9","T":1.2,"Sa":0.24},{"series":"Ground motion spectra","id":"g9","T":1.5,"Sa":0.18},{"series":"Ground motion spectra","id":"g9","T":2.0,"Sa":0.12},{"series":"Ground motion spectra","id":"g9","T":2.5,"Sa":0.085},{"series":"Ground motion spectra","id":"g9","T":3.0,"Sa":0.065},{"series":"Ground motion spectra","id":"g9","T":3.5,"Sa":0.05},{"series":"Ground motion spectra","id":"g9","T":4.0,"Sa":0.038},{"series":"Ground motion spectra","id":"g9","T":5.0,"Sa":0.025},{"series":"Ground motion spectra","id":"g9","T":6.0,"Sa":0.017},{"series":"Ground motion spectra","id":"g9","T":7.5,"Sa":0.011},{"series":"Ground motion spectra","id":"g9","T":10,"Sa":0.006},
{"series":"Ground motion spectra","id":"g10","T":0.01,"Sa":0.67},{"series":"Ground motion spectra","id":"g10","T":0.015,"Sa":0.68},{"series":"Ground motion spectra","id":"g10","T":0.02,"Sa":0.7},{"series":"Ground motion spectra","id":"g10","T":0.025,"Sa":0.72},{"series":"Ground motion spectra","id":"g10","T":0.03,"Sa":0.74},{"series":"Ground motion spectra","id":"g10","T":0.035,"Sa":0.77},{"series":"Ground motion spectra","id":"g10","T":0.04,"Sa":0.8},{"series":"Ground motion spectra","id":"g10","T":0.05,"Sa":0.87},{"series":"Ground motion spectra","id":"g10","T":0.06,"Sa":0.95},{"series":"Ground motion spectra","id":"g10","T":0.07,"Sa":1.02},{"series":"Ground motion spectra","id":"g10","T":0.08,"Sa":1.12},{"series":"Ground motion spectra","id":"g10","T":0.09,"Sa":1.25},{"series":"Ground motion spectra","id":"g10","T":0.1,"Sa":1.3},{"series":"Ground motion spectra","id":"g10","T":0.12,"Sa":1.45},{"series":"Ground motion spectra","id":"g10","T":0.14,"Sa":1.6},{"series":"Ground motion spectra","id":"g10","T":0.16,"Sa":1.75},{"series":"Ground motion spectra","id":"g10","T":0.18,"Sa":1.85},{"series":"Ground motion spectra","id":"g10","T":0.2,"Sa":1.7},{"series":"Ground motion spectra","id":"g10","T":0.23,"Sa":1.65},{"series":"Ground motion spectra","id":"g10","T":0.26,"Sa":1.55},{"series":"Ground motion spectra","id":"g10","T":0.3,"Sa":1.4},{"series":"Ground motion spectra","id":"g10","T":0.35,"Sa":1.25},{"series":"Ground motion spectra","id":"g10","T":0.4,"Sa":1.2},{"series":"Ground motion spectra","id":"g10","T":0.45,"Sa":1.1},{"series":"Ground motion spectra","id":"g10","T":0.5,"Sa":1.0},{"series":"Ground motion spectra","id":"g10","T":0.6,"Sa":0.85},{"series":"Ground motion spectra","id":"g10","T":0.7,"Sa":0.7},{"series":"Ground motion spectra","id":"g10","T":0.8,"Sa":0.6},{"series":"Ground motion spectra","id":"g10","T":1.0,"Sa":0.5},{"series":"Ground motion spectra","id":"g10","T":1.2,"Sa":0.42},{"series":"Ground motion spectra","id":"g10","T":1.5,"Sa":0.33},{"series":"Ground motion spectra","id":"g10","T":2.0,"Sa":0.25},{"series":"Ground motion spectra","id":"g10","T":2.5,"Sa":0.19},{"series":"Ground motion spectra","id":"g10","T":3.0,"Sa":0.15},{"series":"Ground motion spectra","id":"g10","T":3.5,"Sa":0.11},{"series":"Ground motion spectra","id":"g10","T":4.0,"Sa":0.075},{"series":"Ground motion spectra","id":"g10","T":5.0,"Sa":0.045},{"series":"Ground motion spectra","id":"g10","T":6.0,"Sa":0.03},{"series":"Ground motion spectra","id":"g10","T":7.5,"Sa":0.022},{"series":"Ground motion spectra","id":"g10","T":10,"Sa":0.016},
{"series":"Ground motion spectra","id":"g11","T":0.01,"Sa":0.67},{"series":"Ground motion spectra","id":"g11","T":0.015,"Sa":0.69},{"series":"Ground motion spectra","id":"g11","T":0.02,"Sa":0.71},{"series":"Ground motion spectra","id":"g11","T":0.025,"Sa":0.75},{"series":"Ground motion spectra","id":"g11","T":0.03,"Sa":0.79},{"series":"Ground motion spectra","id":"g11","T":0.035,"Sa":0.83},{"series":"Ground motion spectra","id":"g11","T":0.04,"Sa":0.9},{"series":"Ground motion spectra","id":"g11","T":0.05,"Sa":1.02},{"series":"Ground motion spectra","id":"g11","T":0.06,"Sa":1.12},{"series":"Ground motion spectra","id":"g11","T":0.07,"Sa":1.05},{"series":"Ground motion spectra","id":"g11","T":0.08,"Sa":1.2},{"series":"Ground motion spectra","id":"g11","T":0.09,"Sa":1.3},{"series":"Ground motion spectra","id":"g11","T":0.1,"Sa":1.4},{"series":"Ground motion spectra","id":"g11","T":0.12,"Sa":1.35},{"series":"Ground motion spectra","id":"g11","T":0.14,"Sa":1.65},{"series":"Ground motion spectra","id":"g11","T":0.16,"Sa":1.5},{"series":"Ground motion spectra","id":"g11","T":0.18,"Sa":1.4},{"series":"Ground motion spectra","id":"g11","T":0.2,"Sa":1.55},{"series":"Ground motion spectra","id":"g11","T":0.23,"Sa":1.25},{"series":"Ground motion spectra","id":"g11","T":0.26,"Sa":1.1},{"series":"Ground motion spectra","id":"g11","T":0.3,"Sa":1.0},{"series":"Ground motion spectra","id":"g11","T":0.35,"Sa":0.85},{"series":"Ground motion spectra","id":"g11","T":0.4,"Sa":0.7},{"series":"Ground motion spectra","id":"g11","T":0.45,"Sa":0.58},{"series":"Ground motion spectra","id":"g11","T":0.5,"Sa":0.5},{"series":"Ground motion spectra","id":"g11","T":0.6,"Sa":0.4},{"series":"Ground motion spectra","id":"g11","T":0.7,"Sa":0.35},{"series":"Ground motion spectra","id":"g11","T":0.8,"Sa":0.3},{"series":"Ground motion spectra","id":"g11","T":1.0,"Sa":0.23},{"series":"Ground motion spectra","id":"g11","T":1.2,"Sa":0.18},{"series":"Ground motion spectra","id":"g11","T":1.5,"Sa":0.14},{"series":"Ground motion spectra","id":"g11","T":2.0,"Sa":0.1},{"series":"Ground motion spectra","id":"g11","T":2.5,"Sa":0.075},{"series":"Ground motion spectra","id":"g11","T":3.0,"Sa":0.06},{"series":"Ground motion spectra","id":"g11","T":3.5,"Sa":0.045},{"series":"Ground motion spectra","id":"g11","T":4.0,"Sa":0.035},{"series":"Ground motion spectra","id":"g11","T":5.0,"Sa":0.024},{"series":"Ground motion spectra","id":"g11","T":6.0,"Sa":0.018},{"series":"Ground motion spectra","id":"g11","T":7.5,"Sa":0.022},{"series":"Ground motion spectra","id":"g11","T":10,"Sa":0.015}
]},
"encoding":{
"x":{"field":"T","type":"quantitative","scale":{"type":"log","domain":[0.01,10],"nice":false},"axis":{"title":"Period (s)","values":[0.01,0.02,0.03,0.04,0.05,0.06,0.07,0.08,0.09,0.1,0.2,0.3,0.4,0.5,0.6,0.7,0.8,0.9,1,2,3,4,5,6,7,8,9,10],"labelExpr":"datum.value == 0.01 ? '0.01' : datum.value == 0.1 ? '0.1' : datum.value == 1 ? '1' : datum.value == 10 ? '10' : ''"}},
"y":{"field":"Sa","type":"quantitative","scale":{"type":"log","domain":[0.01,10],"nice":false},"axis":{"title":"Spectral Acceleration (g)","values":[0.01,0.02,0.03,0.04,0.05,0.06,0.07,0.08,0.09,0.1,0.2,0.3,0.4,0.5,0.6,0.7,0.8,0.9,1,2,3,4,5,6,7,8,9,10],"labelExpr":"datum.value == 0.01 ? '0.01' : datum.value == 0.1 ? '0.1' : datum.value == 1 ? '1' : datum.value == 10 ? '10' : ''"}},
"detail":{"field":"id","type":"nominal"},
"color":{"field":"series","type":"nominal","scale":{"domain":["Conditional Mean Spectrum","Conditional Mean +/- 2std","Ground motion spectra"],"range":["#000000","#000000","#8a8a8a"]},"legend":{"title":null,"orient":"none","legendX":8.5,"legendY":263,"rowPadding":2.5,"labelOffset":2.5,"symbolSize":1600,"encoding":{"symbols":{"y":{"value":12}},"labels":{"y":{"value":12}}}}},
"strokeDash":{"field":"series","type":"nominal","scale":{"domain":["Conditional Mean Spectrum","Conditional Mean +/- 2std","Ground motion spectra"],"range":[[1,0],[10,7],[1,0]]},"legend":{"title":null,"orient":"none","legendX":8.5,"legendY":263,"rowPadding":2.5,"labelOffset":2.5,"symbolSize":1600,"encoding":{"symbols":{"y":{"value":12}},"labels":{"y":{"value":12}}}}},
"strokeWidth":{"field":"series","type":"nominal","scale":{"type":"ordinal","domain":["Conditional Mean Spectrum","Conditional Mean +/- 2std","Ground motion spectra"],"range":[2.5,3,2]},"legend":{"title":null,"orient":"none","legendX":8.5,"legendY":263,"rowPadding":2.5,"labelOffset":2.5,"symbolSize":1600,"encoding":{"symbols":{"y":{"value":12}},"labels":{"y":{"value":12}}}}}
},
"layer":[
{"transform":[{"filter":"datum.series === 'Ground motion spectra'"}],"mark":{"type":"line","clip":true}},
{"transform":[{"filter":"datum.series !== 'Ground motion spectra'"}],"mark":{"type":"line","clip":true}}
]
}
]
}
